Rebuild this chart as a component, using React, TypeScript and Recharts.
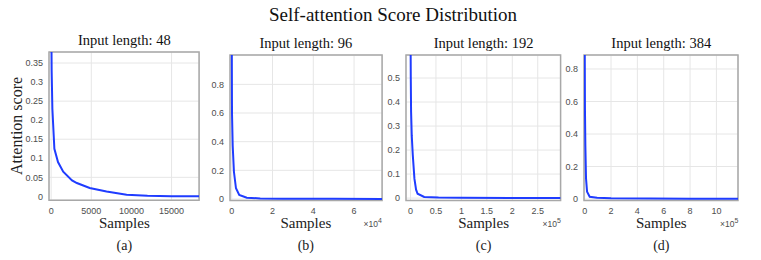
import { CartesianGrid, Line, LineChart, ReferenceArea, XAxis, YAxis } from "recharts";

// sample index vs attention score
const samples48 = [0, 60, 150, 400, 850, 1500, 2600, 3200, 4800, 6900, 9400, 12000, 15000, 18432];
const scores48 = [0.52, 0.33, 0.23, 0.125, 0.09, 0.065, 0.042, 0.035, 0.022, 0.013, 0.0045, 0.0015, 0.0005, 0.0002];

const samples96 = [0, 150, 500, 1100, 2100, 3700, 7400, 14000, 25000, 50000, 73728];
const scores96 = [1.3, 0.6, 0.37, 0.19, 0.075, 0.028, 0.009, 0.004, 0.002, 0.001, 0.0008];

const samples192 = [0, 600, 1200, 2500, 4500, 7800, 11000, 14000, 27000, 55000, 100000, 200000, 294912];
const scores192 = [0.75, 0.5, 0.36, 0.26, 0.18, 0.08, 0.035, 0.018, 0.005, 0.002, 0.001, 0.0008, 0.0007];

const samples384 = [0, 2000, 5000, 10000, 18000, 38000, 94000, 200000, 500000, 800000, 1164000];
const scores384 = [1.0, 0.55, 0.33, 0.127, 0.045, 0.014, 0.008, 0.005, 0.003, 0.002, 0.002];

const xTicks48 = [0, 5000, 10000, 15000];
const xTicks96 = [0, 20000, 40000, 60000];
const xTicks192 = [0, 50000, 100000, 150000, 200000, 250000];
const xTicks384 = [0, 200000, 400000, 600000, 800000, 1000000];

const yTicks48 = [0, 0.05, 0.1, 0.15, 0.2, 0.25, 0.3, 0.35];
const yTicks96 = [0, 0.2, 0.4, 0.6, 0.8];
const yTicks192 = [0, 0.1, 0.2, 0.3, 0.4, 0.5];
const yTicks384 = [0, 0.2, 0.4, 0.6, 0.8];

const zip = (xs: number[], ys: number[]) => xs.map((x, i) => ({ x, y: ys[i] }));

const panels = [
  {
    title: "Input length: 48", tag: "(a)", data: zip(samples48, scores48),
    xTicks: xTicks48, yTicks: yTicks48, xDomain: [-270, 18432], yDomain: [-0.01, 0.379],
    scale: 1, exp: "",
    left: 49.3, top: 52.3, right: 199.4, bottom: 200.5, titleY: 45,
  },
  {
    title: "Input length: 96", tag: "(b)", data: zip(samples96, scores96),
    xTicks: xTicks96, yTicks: yTicks96, xDomain: [-830, 73728], yDomain: [-0.0105, 1.005],
    scale: 1e4, exp: "4",
    left: 229.8, top: 55, right: 381.9, bottom: 200.5, titleY: 47.5,
  },
  {
    title: "Input length: 192", tag: "(c)", data: zip(samples192, scores192),
    xTicks: xTicks192, yTicks: yTicks192, xDomain: [-8800, 294912], yDomain: [-0.01, 0.596],
    scale: 1e5, exp: "5",
    left: 406.3, top: 55, right: 560.9, bottom: 200.5, titleY: 47.5,
  },
  {
    title: "Input length: 384", tag: "(d)", data: zip(samples384, scores384),
    xTicks: xTicks384, yTicks: yTicks384, xDomain: [-5300, 1164000], yDomain: [-0.009, 0.886],
    scale: 1e5, exp: "5",
    left: 584.3, top: 55, right: 738.3, bottom: 200.5, titleY: 47.5,
  },
];

const Y_W = 40;
const X_H = 22;
const PAD = 4;
const serif = "'Liberation Serif', 'Times New Roman', serif";
const tickStyle = { fontSize: 9, fill: "#4d4d4d", fontFamily: "'Liberation Sans', Arial, sans-serif" };

export default function App() {
  return (
    <div style={{ position: "absolute", left: 0, top: 0, width: 761, height: 260, background: "#fff" }}>
      {panels.map((p) => {
        const w = p.right - p.left;
        const h = p.bottom - p.top;
        return (
          <div key={p.tag} style={{ position: "absolute", left: p.left - Y_W, top: p.top - PAD }}>
            <LineChart
              width={Y_W + w + PAD}
              height={PAD + h + X_H}
              data={p.data}
              margin={{ top: PAD, right: PAD, bottom: 0, left: 0 }}
            >
              <CartesianGrid stroke="#e6e6e6" strokeWidth={1} />
              <XAxis
                dataKey="x"
                type="number"
                domain={p.xDomain}
                ticks={p.xTicks}
                allowDataOverflow
                axisLine={false}
                tickLine={false}
                tickSize={5}
                tickMargin={2}
                height={X_H}
                tick={tickStyle}
                tickFormatter={(v: number) => String(+(v / p.scale).toFixed(2))}
              />
              <YAxis
                type="number"
                domain={p.yDomain}
                ticks={p.yTicks}
                allowDataOverflow
                axisLine={false}
                tickLine={false}
                tickSize={4}
                tickMargin={2}
                width={Y_W}
                tick={tickStyle}
              />
              <ReferenceArea
                x1={p.xDomain[0]}
                x2={p.xDomain[1]}
                y1={p.yDomain[0]}
                y2={p.yDomain[1]}
                fill="none"
                stroke="#a8a8a8"
                strokeWidth={1.5}
                ifOverflow="visible"
              />
              <Line
                type="linear"
                dataKey="y"
                stroke="#1f3cff"
                strokeWidth={2}
                dot={false}
                isAnimationActive={false}
              />
            </LineChart>
          </div>
        );
      })}
      <svg width={761} height={260} style={{ position: "absolute", left: 0, top: 0, pointerEvents: "none" }}>
        <text x={393} y={21} textAnchor="middle" fontFamily={serif} fontSize={19} fill="#111">
          Self-attention Score Distribution
        </text>
        <text
          transform="translate(22,126) rotate(-90)"
          textAnchor="middle"
          fontFamily={serif}
          fontSize={16}
          fill="#222"
        >
          Attention score
        </text>
        {panels.map((p) => {
          const cx = (p.left + p.right) / 2;
          return (
            <g key={p.tag}>
              <text x={cx} y={p.titleY} textAnchor="middle" fontFamily={serif} fontSize={14.5} fill="#111">
                {p.title}
              </text>
              <text x={cx} y={228} textAnchor="middle" fontFamily={serif} fontSize={15} fill="#222">
                Samples
              </text>
              <text x={cx} y={249.5} textAnchor="middle" fontFamily={serif} fontSize={14} fill="#222">
                {p.tag}
              </text>
              {p.exp && (
                <text
                  x={p.right}
                  y={227}
                  textAnchor="end"
                  fontFamily="'Liberation Sans', Arial, sans-serif"
                  fontSize={8.5}
                  fill="#4d4d4d"
                >
                  ×10
                  <tspan dy={-4} fontSize={7}>
                    {p.exp}
                  </tspan>
                </text>
              )}
            </g>
          );
        })}
      </svg>
    </div>
  );
}
